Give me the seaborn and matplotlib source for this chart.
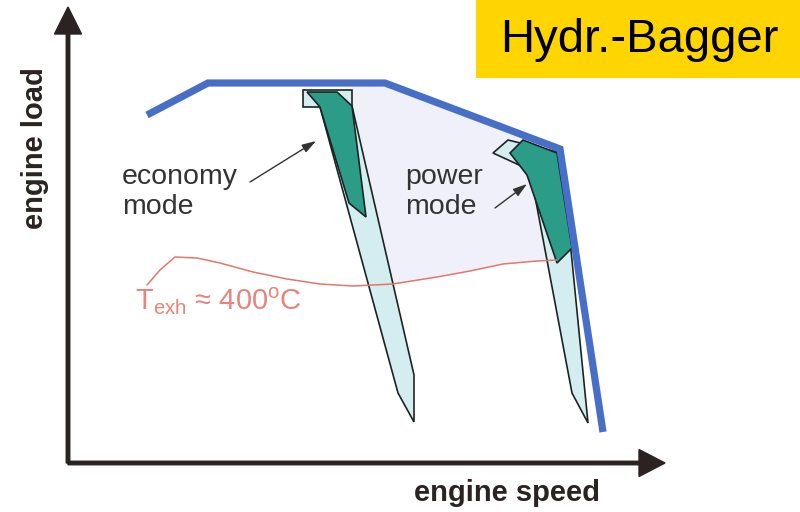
import matplotlib
matplotlib.use("Agg")
import matplotlib.pyplot as plt
from matplotlib.patches import Rectangle
import seaborn as sns
import pandas as pd

# ---- data (engine speed / engine load, arbitrary units) ----
full_load_speed = [79, 140, 317, 492, 535]
full_load_load = [348, 380, 380, 314, 31]

texh_speed = [79, 92, 107, 129, 152, 185, 219, 252, 285, 325, 369, 402, 435, 469, 489]
texh_load = [178, 193, 206, 205, 200, 191, 184, 179, 177, 179, 186, 192, 199, 202, 203]

eco_band_speed = [235, 284, 284, 346, 346, 330, 252, 235]
eco_band_load = [373, 373, 357, 88, 41, 70, 356, 356]
eco_core_speed = [239, 269, 284, 298, 281, 252]
eco_core_load = [371, 371, 357, 246, 260, 356]

pow_band_speed = [425, 440, 489, 501, 520, 504, 462]
pow_band_load = [310, 323, 311, 233, 40, 70, 293]
pow_core_speed = [442, 455, 489, 504, 489, 459]
pow_core_load = [310, 323, 310, 215, 200, 288]

field_speed = [284, 317, 490, 489, 469, 435, 402, 369, 325, 320, 284]
field_load = [377, 377, 313, 203, 202, 199, 192, 186, 179, 179, 357]

title_text = "Hydr.-Bagger"
x_label = "engine speed"
y_label = "engine load"

sns.set_theme(style="white")
plt.rcParams["font.family"] = ["Liberation Sans", "DejaVu Sans"]
plt.rcParams["mathtext.fontset"] = "custom"
plt.rcParams["mathtext.rm"] = "Liberation Sans"

fig = plt.figure(figsize=(8, 5.12), dpi=100)
ax = fig.add_axes([0, 0, 1, 1])

edge = "#1c2422"
# operating field
ax.fill(field_speed, field_load, color="#eff0f9", lw=0, zorder=1)
# bands
ax.fill(eco_band_speed, eco_band_load, facecolor="#d3edf1", edgecolor=edge, lw=1.2, zorder=2)
ax.fill(pow_band_speed, pow_band_load, facecolor="#d3edf1", edgecolor=edge, lw=1.2, zorder=2)
ax.fill(eco_core_speed, eco_core_load, facecolor="#2b9c87", edgecolor=edge, lw=1.2, zorder=3)
ax.fill(pow_core_speed, pow_core_load, facecolor="#2b9c87", edgecolor=edge, lw=1.2, zorder=3)

# exhaust temperature line
df_t = pd.DataFrame({"speed": texh_speed, "load": texh_load})
sns.lineplot(data=df_t, x="speed", y="load", sort=False, ax=ax, color="#e3766e",
             lw=1.1, zorder=4, estimator=None)

# full-load curve
df_f = pd.DataFrame({"speed": full_load_speed, "load": full_load_load})
sns.lineplot(data=df_f, x="speed", y="load", sort=False, ax=ax, color="#476fc8",
             lw=5.2, zorder=5, estimator=None, solid_joinstyle="miter",
             solid_capstyle="butt")
ax.set_xlim(-68, 732)
ax.set_ylim(-49, 463)
ax.axis("off")

# axes arrows
axc = "#2b2321"
ax.arrow(0, 0, 0, 456, width=3.5, head_width=27, head_length=27,
         length_includes_head=True, color=axc, zorder=6)
ax.arrow(0, 0, 597, 0, width=3.5, head_width=27, head_length=26,
         length_includes_head=True, color=axc, zorder=6)

ax.text(-33, 315, y_label, rotation=90, ha="center", va="center",
        fontsize=21, fontweight="bold", color="#2b2321")
ax.text(439, -30, x_label, ha="center", va="center",
        fontsize=21, fontweight="bold", color="#2b2321")

# title box
ax.add_patch(Rectangle((408, 385), 324, 78, facecolor="#ffd500", edgecolor="none", zorder=7))
ax.text(571, 423, title_text, ha="center", va="center", fontsize=34, color="black", zorder=8)

# mode labels
txtc = "#333333"
ax.text(54, 271, "economy\nmode", ha="left", va="center", fontsize=20.5,
        color=txtc, linespacing=1.2)
ax.text(337, 271, "power\nmode", ha="left", va="center", fontsize=20.5,
        color=txtc, linespacing=1.2)
ax.annotate("", xy=(248, 322), xytext=(182, 281),
            arrowprops=dict(arrowstyle="-|>,head_length=0.7,head_width=0.22",
                            color=txtc, lw=1.0, shrinkA=0, shrinkB=0), zorder=6)
ax.annotate("", xy=(459, 279), xytext=(427, 255),
            arrowprops=dict(arrowstyle="-|>,head_length=0.7,head_width=0.22",
                            color=txtc, lw=1.0, shrinkA=0, shrinkB=0), zorder=6)

ax.text(67, 162, r"T$_{\mathrm{exh}}$ ≈ 400$^{\mathrm{o}}$C", ha="left", va="center",
        fontsize=21, color="#e8837b")

fig.savefig("out.png", dpi=100)
